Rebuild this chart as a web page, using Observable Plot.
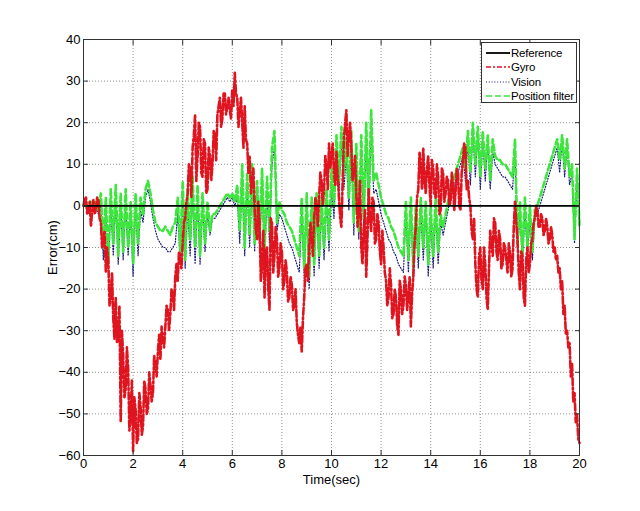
<!DOCTYPE html>
<html><head><meta charset="utf-8">
<script src="https://cdn.jsdelivr.net/npm/d3@7"></script>
<script src="https://cdn.jsdelivr.net/npm/@observablehq/plot@0.6"></script>
<style>
html,body{margin:0;padding:0;background:#fff;}
#chart{position:relative;width:640px;height:511px;font-family:"Liberation Sans",Arial,sans-serif;}
#legend{position:absolute;left:481px;top:42px;width:96px;height:61px;border:1px solid #333;background:#fff;box-sizing:border-box;}
#legend .row{position:absolute;left:0;height:14px;font-size:11.5px;line-height:14px;color:#000;white-space:nowrap;letter-spacing:-0.2px;}
#legend svg{position:absolute;left:4px;top:0;}
#legend span{position:absolute;left:29px;top:0;}
</style></head><body><div id="chart"><div id="legend"></div></div>
<script>
// ---- data ----
const xTicks = [0, 2, 4, 6, 8, 10, 12, 14, 16, 18, 20];
const yTicks = [-60, -50, -40, -30, -20, -10, 0, 10, 20, 30, 40];
const seriesNames = ["Reference", "Gyro", "Vision", "Position filter"];
const gyroStep = 0.05;   // seconds between gyro samples
const visionStep = 0.1;  // seconds between vision / filter samples
const referenceValue = [0];

const gyro = [
 0, 2, 2, -2, -1.5, 1, -5, -1, 1.5, -2, -1, 2, 1.5, -3, -4, -10, -9, -6, -16, -10,
 -13, -24, -22, -16, -27, -32, -22, -33, -31, -24, -52, -30, -36, -46, -44, -34, -39, -54, -50, -42,
 -59, -46, -49, -57, -56, -45, -48, -55, -53, -42, -44, -50, -49, -40, -43, -47, -45, -36, -38, -41,
 -35, -31, -37, -29, -32, -34, -29, -24, -25, -30, -26, -20, -21, -25, -17, -14, -18, -11, -13, -15,
 -9, -4, -3, 1, 3, 10, 9, 2, 14, 17, 22, 6, 12, 20, 19, 8, 7, 16, 15, 3,
 4, 14, 12, 6, 10, 18, 17, 11, 22, 24, 26, 19, 21, 27, 27, 22, 24, 26, 23, 21,
 28, 24, 32, 27, 26, 19, 23, 26, 20, 14, 24, 16, 15, 8, 12, 3, 6, 9, 0, -6,
 -8, 1, -4, -18, -14, -6, -22, -11, -10, -20, -25, -3, -4, -16, -12, -5, -8, -17, -15, -9,
 -11, -20, -18, -13, -16, -23, -22, -17, -19, -25, -24, -20, -28, -31, -33, -29, -35, -27, -22, -15,
 -14, -18, -10, -4, -8, -12, -3, 2, 0, -5, 2, 8, 6, 0, 4, 12, 10, 4, 15, 9,
 12, 15, 8, 5, 13, 7, 2, -3, -5, 6, 16, 20, 23, 12, 17, 20, 14, 6, 8, 12,
 3, -5, 0, 6, -10, -14, -6, -1, -17, -8, 4, -3, -6, 2, 1, -9, -8, -2, -4, -11,
 -14, -6, -10, -16, -18, -24, -22, -15, -19, -27, -26, -20, -22, -29, -31, -18, -20, -26, -24, -17,
 -19, -25, -22, -17, -29, -21, -17, -9, -5, 2, 4, 13, 10, 4, 14, 6, 3, 9, 12, 5,
 0, 11, 9, 3, 2, 10, 7, -2, -1, 9, 8, 1, 3, 7, 6, 0, 1, 8, 5, -1,
 3, 9, 8, 0, -1, 8, 11, 15, 14, 4, 6, 2, 0, -6, -8, -3, -14, -20, -22, -12,
 -10, -18, -20, -10, -14, -22, -25, -15, -6, -9, -12, -3, -4, -11, -13, -6, -8, -15, -14, -9,
 -10, -13, -16, -9, -11, -17, -15, -5, 1, -4, -8, -16, -20, -11, -12, -22, -24, -13, -10, -16,
 -14, -9, -8, -4, -3, 0, -1, -5, -5, -2, -3, -7, -6, -3, -5, -9, -8, -5, -7, -11,
 -10, -13, -12, -16, -15, -20, -18, -26, -24, -31, -30, -34, -33, -41, -38, -47, -45, -52, -50, -56,
 -57
];

const vision = [
 0, 1, -1, 0, 0, 0, -2, 0, -13, -1,
 -15, 0, -12, 1, -14, 0, -13, 0, -12, -2,
 -17, 0, -12, -1, -4, 2, 4, 1, -3, -6,
 -8, -9, -10, -10, -11, -11, -10, -9, -2, -13,
 2, -15, 0, -12, 3, -14, 1, -14, 0, -11,
 -2, -7, -3, -3, -2, -1, 0, 1, 2, 1,
 2, 0, 2, -9, 6, -12, 4, -10, 6, -11,
 3, -10, 5, -13, 3, -9, 10, 14, -6, -2,
 -3, -5, -7, -9, -10, -12, -14, -16, -2, -18,
 0, -20, -1, -17, 0, -15, -1, -13, 1, -11,
 5, -3, 13, 3, 15, 4, 12, -1, 14, -7,
 11, -8, 13, -6, 16, -3, 19, 3, 4, 1,
 -2, -4, -6, -8, -9, -11, -12, -14, -15, -16,
 -2, -16, -1, -18, -3, -15, -1, -13, -2, -17,
 -3, -15, -1, -14, -4, -7, -4, -1, 2, 4,
 6, 8, 10, 12, 6, 15, 5, 18, 7, 17,
 4, 16, 6, 15, 4, 13, 10, 9, 8, 7,
 7, 6, 5, 4, 13, -11, -2, -14, -1, -12,
 -3, -13, -3, -2, 0, 2, 4, 6, 8, 10,
 12, 14, 8, 16, 7, 14, 5, 8, -9, 7,
 -6
];

const positionFilter = [
 0, 1, -1, 1, 0, 1, -1, 3, -10, 2,
 -14, 4, -9, 5, -12, 3, -11, 4, -10, 1,
 -14, 3, -9, 2, -2, 4, 6, 3, -1, -4,
 -5, -6, -6, -5, -6, -7, -5, -4, 2, -11,
 6, -13, 4, -8, 7, -10, 5, -12, 3, -9,
 1, -6, -2, -2, -1, 0, 1, 2, 3, 2,
 3, 1, 5, -6, 10, -10, 8, -7, 10, -9,
 6, -8, 9, -11, 7, -6, 14, 18, -4, 1,
 -1, -2, -4, -5, -6, -8, -10, -12, 2, -15,
 3, -17, 2, -14, 3, -12, 2, -10, 4, -8,
 9, 0, 17, 6, 19, 8, 16, 2, 18, -4,
 15, -6, 17, -3, 20, 0, 23, 6, 8, 5,
 2, 0, -2, -3, -5, -6, -8, -10, -11, -12,
 1, -13, 2, -15, 0, -12, 2, -10, 1, -14,
 0, -12, 2, -11, -2, -5, -2, 1, 4, 6,
 8, 10, 12, 14, 9, 18, 8, 20, 10, 19,
 7, 18, 9, 17, 6, 16, 12, 11, 11, 10,
 10, 9, 8, 7, 16, -9, 1, -12, 2, -10,
 0, -11, -1, 0, 2, 4, 6, 8, 10, 12,
 14, 16, 11, 17, 9, 16, 7, 10, -8, 9,
 -5
];

// ---- build table ----
function rows(values, step, name) {
  return values.map((v, i) => ({t: +(i * step).toFixed(3), v, name}));
}
const gyroRows = rows(gyro, gyroStep, "Gyro");
const visionRows = rows(vision, visionStep, "Vision");
const filterRows = rows(positionFilter, visionStep, "Position filter");

const colors = {
  "Reference": "#000000",
  "Gyro": "#e0141e",
  "Vision": "#1a1a7a",
  "Position filter": "#3ce63c"
};
const dashes = {
  "Reference": null,
  "Gyro": "7,2.5,2,2.5",
  "Vision": "1,1.8",
  "Position filter": "6,3"
};
const widths = {"Reference": 1.6, "Gyro": 2.6, "Vision": 1.2, "Position filter": 2.6};

const fontFamily = '"Liberation Sans", Arial, sans-serif';

const chart = Plot.plot({
  width: 640,
  height: 511,
  marginLeft: 83,
  marginRight: 61,
  marginTop: 39,
  marginBottom: 56,
  style: {fontFamily, fontSize: "12px", background: "#fff", color: "#000"},
  x: {domain: [0, 20], ticks: xTicks},
  y: {domain: [-60, 40], ticks: yTicks},
  marks: [
    Plot.gridX(xTicks, {stroke: "#888", strokeOpacity: 0.9, strokeDasharray: "1,2", strokeWidth: 1}),
    Plot.gridY(yTicks, {stroke: "#888", strokeOpacity: 0.9, strokeDasharray: "1,2", strokeWidth: 1}),
    Plot.lineY(visionRows, {x: "t", y: "v", stroke: colors["Vision"], strokeWidth: widths["Vision"], strokeDasharray: dashes["Vision"]}),
    Plot.lineY(filterRows, {x: "t", y: "v", stroke: colors["Position filter"], strokeWidth: widths["Position filter"], strokeDasharray: dashes["Position filter"]}),
    Plot.lineY(gyroRows, {x: "t", y: "v", stroke: colors["Gyro"], strokeWidth: widths["Gyro"], strokeDasharray: dashes["Gyro"]}),
    Plot.ruleY(referenceValue, {stroke: colors["Reference"], strokeWidth: widths["Reference"]}),
    Plot.frame({stroke: "#333", strokeWidth: 1}),
    // inward tick marks on all four sides
    Plot.axisX(xTicks, {anchor: "bottom", tickSize: -5, tickFormat: () => "", label: null, stroke: "#333"}),
    Plot.axisX(xTicks, {anchor: "top", tickSize: -5, tickFormat: () => "", label: null, stroke: "#333"}),
    Plot.axisY(yTicks, {anchor: "left", tickSize: -5, tickFormat: () => "", label: null, stroke: "#333"}),
    Plot.axisY(yTicks, {anchor: "right", tickSize: -5, tickFormat: () => "", label: null, stroke: "#333"}),
    // tick labels
    Plot.axisX(xTicks, {anchor: "bottom", tickSize: 0, tickPadding: 3, fontSize: 13, label: "Time(sec)", labelAnchor: "center", labelArrow: "none", labelOffset: 28, fill: "#000"}),
    Plot.axisY(yTicks, {anchor: "left", tickSize: 0, tickPadding: 3, fontSize: 13, label: "Error(cm)", labelAnchor: "center", labelArrow: "none", labelOffset: 36, fill: "#000"})
  ]
});
document.getElementById("chart").prepend(chart);

// legend (inside the plot, top-right)
const legend = document.getElementById("legend");
const rowTops = [3, 17, 32, 46];
seriesNames.forEach((name, i) => {
  const row = document.createElement("div");
  row.className = "row";
  row.style.top = rowTops[i] + "px";
  const sw = name === "Vision" ? 1.2 : (name === "Reference" ? 1.8 : 1.6);
  const dash = dashes[name] ? `stroke-dasharray="${name === "Gyro" ? "5,2,2,2" : dashes[name]}"` : "";
  row.innerHTML = `<svg width="26" height="14"><line x1="0" x2="24" y1="7" y2="7" stroke="${colors[name]}" stroke-width="${sw}" ${dash}/></svg><span>${name}</span>`;
  legend.appendChild(row);
});
</script>
</body></html>
